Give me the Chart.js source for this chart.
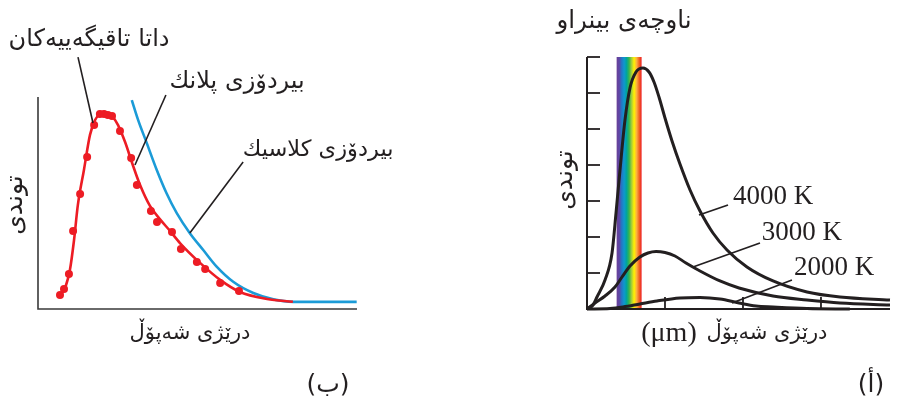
<!DOCTYPE html>
<html><head><meta charset="utf-8">
<script src="https://cdn.jsdelivr.net/npm/chart.js@4.4.0/dist/chart.umd.min.js"></script>
<style>
html,body{margin:0;padding:0;background:#fff;}
#wrap{position:relative;width:898px;height:400px;overflow:hidden;}
#c1{position:absolute;left:0;top:0;width:450px;height:400px;}
#c2{position:absolute;left:450px;top:0;width:448px;height:400px;}
</style></head><body>
<div id="wrap"><canvas id="c1" width="450" height="400"></canvas><canvas id="c2" width="448" height="400"></canvas></div>
<script>
// ---------- Panel (ب): experiment vs theories (arbitrary units) ----------
const expX = [6.9, 8.15, 9.7, 11.0, 13.2, 15.4, 17.6, 19.4, 20.7, 21.9, 23.2, 25.7, 29.2, 31.0, 35.4, 37.3, 42.0, 44.8, 49.8, 52.4, 57.1, 63.0];
const expY = [3.3, 6.3, 13.6, 34.6, 52.7, 70.7, 86.3, 91.7, 91.7, 91.2, 90.7, 83.4, 70.2, 57.0, 44.4, 39.0, 34.1, 25.8, 19.4, 16.0, 9.2, 5.3];
const planckX = [6.9, 8.8, 10.0, 11.3, 12.5, 14.4, 16.3, 17.9, 19.4, 20.4, 21.6, 23.2, 25.1, 27.3, 29.5, 32.0, 35.1, 38.2, 41.4, 44.5, 50.8, 57.1, 63.3, 71.8, 79.9];
const planckY = [2.85, 8.2, 15.5, 30.2, 47.3, 64.4, 81.5, 88.8, 91.7, 92.7, 92.2, 90.7, 86.3, 78.0, 67.8, 57.0, 46.8, 40.4, 34.6, 28.7, 19.0, 10.7, 4.8, 1.4, 0];
const classicX = [29.4, 31.4, 34.1, 37.2, 40.3, 43.5, 47.6, 51.8, 56.0, 61.2, 67.5, 73.8, 80.0, 99.9];
const classicY = [98.5, 88.7, 77.5, 64.5, 53.0, 43.3, 33.5, 25.3, 17.2, 9.8, 4.3, 1.2, 0, 0];

// ---------- Panel (أ): blackbody curves, wavelength in µm ----------
const wl4000 = [0, 0.077, 0.128, 0.231, 0.321, 0.372, 0.423, 0.487, 0.551, 0.628, 0.718, 0.795, 0.859, 0.923, 1.0, 1.090, 1.192, 1.321, 1.449, 1.615, 1.795, 2.051, 2.385, 2.821, 3.244, 3.885];
const int4000 = [0, 0.111, 0.333, 0.806, 1.556, 2.667, 3.861, 5.25, 6.139, 6.583, 6.694, 6.583, 6.306, 5.889, 5.306, 4.667, 4.028, 3.306, 2.722, 2.111, 1.639, 1.167, 0.778, 0.472, 0.333, 0.25];
const wl3000 = [0, 0.103, 0.231, 0.359, 0.449, 0.551, 0.679, 0.782, 0.885, 1.0, 1.128, 1.269, 1.449, 1.705, 1.949, 2.385, 2.821, 3.244, 3.885];
const int3000 = [0, 0.167, 0.361, 0.611, 0.889, 1.194, 1.444, 1.556, 1.597, 1.569, 1.472, 1.278, 1.056, 0.778, 0.583, 0.361, 0.25, 0.167, 0.111];
const wl2000 = [0, 0.295, 0.462, 0.679, 0.897, 1.192, 1.449, 1.705, 1.949, 2.167, 2.385, 2.821, 3.37];
const int2000 = [0, 0.014, 0.056, 0.139, 0.222, 0.306, 0.32, 0.278, 0.167, 0.083, 0.056, 0.014, 0];
const xTickVals = [1, 2, 3];
const yTickVals = [1, 2, 3, 4, 5, 6, 7];
const visibleBand = [0.38, 0.70];
const tempLabels = ['4000 K', '3000 K', '2000 K'];

const AR = '"DejaVu Sans", "Noto Sans", sans-serif';
const SERIF = '"Liberation Serif", "DejaVu Serif", serif';
function pts(xs, ys) { return xs.map((x, i) => ({ x: x, y: ys[i] })); }

function drawText(ctx, s, x, y, font, opts) {
  opts = opts || {};
  ctx.save();
  ctx.font = font;
  ctx.fillStyle = opts.color || '#231f20';
  ctx.textAlign = opts.align || 'center';
  ctx.textBaseline = 'middle';
  ctx.direction = opts.dir || 'ltr';
  ctx.translate(x, y);
  if (opts.rot) ctx.rotate(opts.rot);
  ctx.fillText(s, 0, 0);
  ctx.restore();
}
function seg(ctx, a, b, w, c) {
  ctx.save(); ctx.strokeStyle = c || '#231f20'; ctx.lineWidth = w || 1.5; ctx.lineCap = 'butt';
  ctx.beginPath(); ctx.moveTo(a[0], a[1]); ctx.lineTo(b[0], b[1]); ctx.stroke(); ctx.restore();
}

const leftPlugin = {
  id: 'leftDeco',
  beforeDatasetsDraw(chart) {
    const ctx = chart.ctx, a = chart.chartArea;
    ctx.save(); ctx.strokeStyle = '#3a3a3a'; ctx.lineWidth = 1.6;
    ctx.beginPath(); ctx.moveTo(a.left, a.top); ctx.lineTo(a.left, a.bottom); ctx.lineTo(a.right, a.bottom); ctx.stroke();
    ctx.restore();
  },
  afterDatasetsDraw(chart) {
    const ctx = chart.ctx, xs = chart.scales.x, ys = chart.scales.y;
    const P = (x, y) => [xs.getPixelForValue(x), ys.getPixelForValue(y)];
    seg(ctx, P(12.54, 119.5), P(17.24, 87.3), 1.6);
    seg(ctx, P(40.1, 101.0), P(30.4, 66.8), 1.6);
    seg(ctx, P(64.3, 68.3), P(47.6, 33.6), 1.6);
    let p = P(16.0, 127.8); drawText(ctx, 'داتا تاقیگەییەکان', p[0], p[1], '24px ' + AR, { dir: 'rtl' });
    p = P(62.4, 107.3); drawText(ctx, 'بیردۆزی پلانك', p[0], p[1], '24px ' + AR, { dir: 'rtl' });
    p = P(87.8, 74.1); drawText(ctx, 'بیردۆزی کلاسیك', p[0], p[1], '22.5px ' + AR, { dir: 'rtl' });
    drawText(ctx, 'توندی', 15, 205, '25px ' + AR, { dir: 'rtl', rot: -Math.PI / 2 });
    drawText(ctx, 'درێژی شەپۆڵ', 190, 334, '21px ' + AR, { dir: 'rtl' });
    drawText(ctx, '(ب)', 328, 385, '25px ' + AR, { dir: 'rtl' });
  }
};

new Chart(document.getElementById('c1'), {
  type: 'line',
  data: {
    datasets: [
      { label: 'exp', data: pts(expX, expY), showLine: false, pointRadius: 4, pointBackgroundColor: '#ed1c24', pointBorderWidth: 0, borderColor: '#ed1c24', clip: false, order: 0 },
      { label: 'classical', data: pts(classicX, classicY), borderColor: '#1b9bd7', borderWidth: 2.6, pointRadius: 0, cubicInterpolationMode: 'monotone', fill: false, clip: false, order: 2 },
      { label: 'planck', data: pts(planckX, planckY), borderColor: '#ed1c24', borderWidth: 2.6, pointRadius: 0, cubicInterpolationMode: 'monotone', fill: false, clip: false, order: 1 }
    ]
  },
  options: {
    responsive: false, animation: false, events: [],
    layout: { padding: { left: 38, right: 93, top: 97, bottom: 91 } },
    plugins: { legend: { display: false }, tooltip: { enabled: false }, title: { display: false } },
    scales: {
      x: { type: 'linear', min: 0, max: 100, display: false },
      y: { type: 'linear', min: -3.5, max: 100, display: false }
    }
  },
  plugins: [leftPlugin]
});

const OX = 450;
const rightPlugin = {
  id: 'rightDeco',
  beforeDatasetsDraw(chart) {
    const ctx = chart.ctx, a = chart.chartArea, xs = chart.scales.x, ys = chart.scales.y;
    const x0 = xs.getPixelForValue(visibleBand[0]), x1 = xs.getPixelForValue(visibleBand[1]);
    const g = ctx.createLinearGradient(x0, 0, x1, 0);
    const stops = [[0, '#6b3f98'], [0.12, '#5a4aa8'], [0.18, '#2a6fc0'], [0.3, '#0f96cf'], [0.4, '#00a59a'], [0.5, '#39b54a'], [0.6, '#a6ce39'], [0.7, '#fff200'], [0.8, '#fbb040'], [0.9, '#f26522'], [1, '#ed1c24']];
    stops.forEach(s => g.addColorStop(s[0], s[1]));
    ctx.save(); ctx.fillStyle = g; ctx.fillRect(x0, a.top, x1 - x0, a.bottom - a.top); ctx.restore();
    ctx.save(); ctx.strokeStyle = '#231f20'; ctx.lineWidth = 2;
    ctx.beginPath(); ctx.moveTo(a.left, a.top); ctx.lineTo(a.left, a.bottom); ctx.lineTo(a.right, a.bottom); ctx.stroke();
    ctx.lineWidth = 1.8;
    yTickVals.forEach(v => { const y = ys.getPixelForValue(v); ctx.beginPath(); ctx.moveTo(a.left, y); ctx.lineTo(a.left + 13, y); ctx.stroke(); });
    xTickVals.forEach(v => { const x = xs.getPixelForValue(v); ctx.beginPath(); ctx.moveTo(x, a.bottom); ctx.lineTo(x, a.bottom - 12); ctx.stroke(); });
    ctx.restore();
  },
  afterDatasetsDraw(chart) {
    const ctx = chart.ctx, xs = chart.scales.x, ys = chart.scales.y;
    const P = (x, y) => [xs.getPixelForValue(x), ys.getPixelForValue(y)];
    seg(ctx, P(1.808, 2.889), P(1.436, 2.611), 1.8);
    seg(ctx, P(2.218, 1.833), P(1.359, 1.167), 1.8);
    seg(ctx, P(2.628, 0.806), P(1.859, 0.167), 1.8);
    let p = P(2.385, 3.111); drawText(ctx, tempLabels[0], p[0], p[1], '27px ' + SERIF);
    p = P(2.756, 2.111); drawText(ctx, tempLabels[1], p[0], p[1], '27px ' + SERIF);
    p = P(3.167, 1.139); drawText(ctx, tempLabels[2], p[0], p[1], '27px ' + SERIF);
    drawText(ctx, 'ناوچەی بینراو', 624 - OX, 22, '24.5px ' + AR, { dir: 'rtl' });
    drawText(ctx, 'توندی', 565 - OX, 180, '25px ' + AR, { dir: 'rtl', rot: -Math.PI / 2 });
    drawText(ctx, 'درێژی شەپۆڵ', 767 - OX, 334, '21px ' + AR, { dir: 'rtl' });
    drawText(ctx, '(μm)', 669 - OX, 334, '28px ' + SERIF);
    drawText(ctx, '(أ)', 871 - OX, 385, '25px ' + AR, { dir: 'rtl' });
  }
};

new Chart(document.getElementById('c2'), {
  type: 'line',
  data: {
    datasets: [
      { label: '4000 K', data: pts(wl4000, int4000), borderColor: '#231f20', borderWidth: 3, pointRadius: 0, cubicInterpolationMode: 'monotone', fill: false, clip: false },
      { label: '3000 K', data: pts(wl3000, int3000), borderColor: '#231f20', borderWidth: 3, pointRadius: 0, cubicInterpolationMode: 'monotone', fill: false, clip: false },
      { label: '2000 K', data: pts(wl2000, int2000), borderColor: '#231f20', borderWidth: 3, pointRadius: 0, cubicInterpolationMode: 'monotone', fill: false, clip: false }
    ]
  },
  options: {
    responsive: false, animation: false, events: [],
    layout: { padding: { left: 137, right: 8, top: 57, bottom: 91 } },
    plugins: { legend: { display: false }, tooltip: { enabled: false }, title: { display: false } },
    scales: {
      x: { type: 'linear', min: 0, max: 3.885, display: false },
      y: { type: 'linear', min: 0, max: 7, display: false }
    }
  },
  plugins: [rightPlugin]
});
</script>
</body></html>
